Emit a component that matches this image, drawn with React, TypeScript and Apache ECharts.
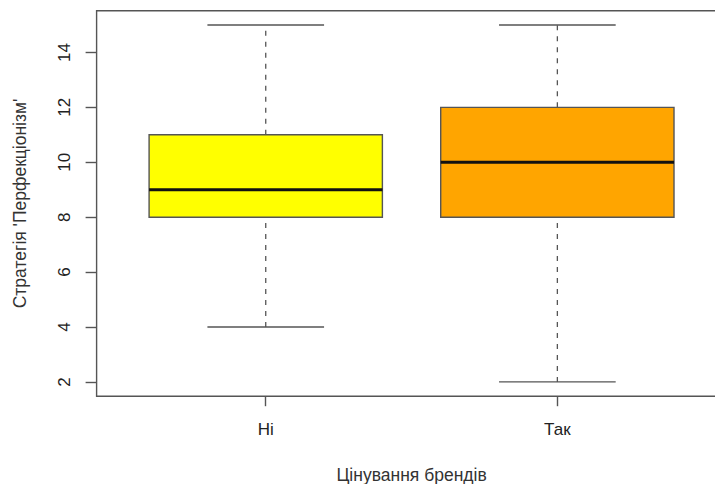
import React, { useEffect, useRef } from "react";
import * as echarts from "echarts";

const categories = ["Ні", "Так"];
const mins = [4, 2];
const q1s = [8, 8];
const medians = [9, 10];
const q3s = [11, 12];
const maxs = [15, 15];
const boxColors = ["#FFFF00", "#FFA500"];
const yTicks = [2, 4, 6, 8, 10, 12, 14];
const xTicks = [1, 2];

export default function App() {
  const ref = useRef<HTMLDivElement>(null);
  useEffect(() => {
    document.body.style.margin = "0";
    const chart = echarts.init(ref.current!, null, { renderer: "svg" });
    const data = categories.map((_, i) => [i + 1, mins[i], q1s[i], medians[i], q3s[i], maxs[i]]);
    const font = "Liberation Sans, Arial, sans-serif";
    chart.setOption({
      animation: false,
      backgroundColor: "#ffffff",
      grid: {
        left: 96.6,
        top: 10.7,
        width: 629.9,
        height: 385.5,
        outerBoundsMode: "none",
        containLabel: false,
        show: true,
        borderColor: "#555",
        borderWidth: 1.4,
        backgroundColor: "transparent",
      },
      xAxis: {
        type: "value",
        min: 0.42,
        max: 2.58,
        name: "Цінування брендів",
        nameLocation: "middle",
        nameGap: 70,
        nameTextStyle: { fontFamily: font, fontSize: 17.5, color: "#333" },
        axisLine: { show: false },
        splitLine: { show: false },
        axisTick: { show: true, customValues: xTicks, length: 10, lineStyle: { color: "#555", width: 1.4 } },
        axisLabel: {
          customValues: xTicks,
          formatter: (v: number) => categories[Math.round(v) - 1] ?? "",
          margin: 25,
          fontFamily: font,
          fontSize: 17,
          color: "#222",
        },
      },
      yAxis: {
        type: "value",
        min: 1.48,
        max: 15.52,
        name: "Стратегія 'Перфекціонізм'",
        nameLocation: "middle",
        nameGap: 68,
        nameTextStyle: { fontFamily: font, fontSize: 17.5, color: "#333" },
        axisLine: { show: false },
        splitLine: { show: false },
        axisTick: { show: true, customValues: yTicks, length: 11, lineStyle: { color: "#555", width: 1.4 } },
        axisLabel: {
          customValues: yTicks,
          rotate: 90,
          margin: 23.5,
          fontFamily: font,
          fontSize: 17,
          color: "#222",
        },
      },
      series: [
        {
          type: "custom",
          data,
          renderItem: (params: any, api: any) => {
            const x = api.value(0);
            const idx = params.dataIndex;
            const pMin = api.coord([x, api.value(1)]);
            const pQ1 = api.coord([x, api.value(2)]);
            const pMed = api.coord([x, api.value(3)]);
            const pQ3 = api.coord([x, api.value(4)]);
            const pMax = api.coord([x, api.value(5)]);
            const boxW = api.size([0.8, 0])[0];
            const capW = api.size([0.4, 0])[0];
            const cx = pMed[0];
            const whisker = { stroke: "#555", lineWidth: 1.3, lineDash: [5, 6] };
            const cap = { stroke: "#555", lineWidth: 1.3 };
            return {
              type: "group",
              children: [
                { type: "line", shape: { x1: cx, y1: pMin[1], x2: cx, y2: pQ1[1] }, style: whisker },
                { type: "line", shape: { x1: cx, y1: pQ3[1], x2: cx, y2: pMax[1] }, style: whisker },
                { type: "line", shape: { x1: cx - capW / 2, y1: pMin[1], x2: cx + capW / 2, y2: pMin[1] }, style: cap },
                { type: "line", shape: { x1: cx - capW / 2, y1: pMax[1], x2: cx + capW / 2, y2: pMax[1] }, style: cap },
                {
                  type: "rect",
                  shape: { x: cx - boxW / 2, y: pQ3[1], width: boxW, height: pQ1[1] - pQ3[1] },
                  style: { fill: boxColors[idx], stroke: "#555", lineWidth: 1.4 },
                },
                {
                  type: "line",
                  shape: { x1: cx - boxW / 2, y1: pMed[1], x2: cx + boxW / 2, y2: pMed[1] },
                  style: { stroke: "#111", lineWidth: 3 },
                },
              ],
            };
          },
        },
      ],
    });
    return () => chart.dispose();
  }, []);
  return <div ref={ref} style={{ width: 715, height: 484 }} />;
}
